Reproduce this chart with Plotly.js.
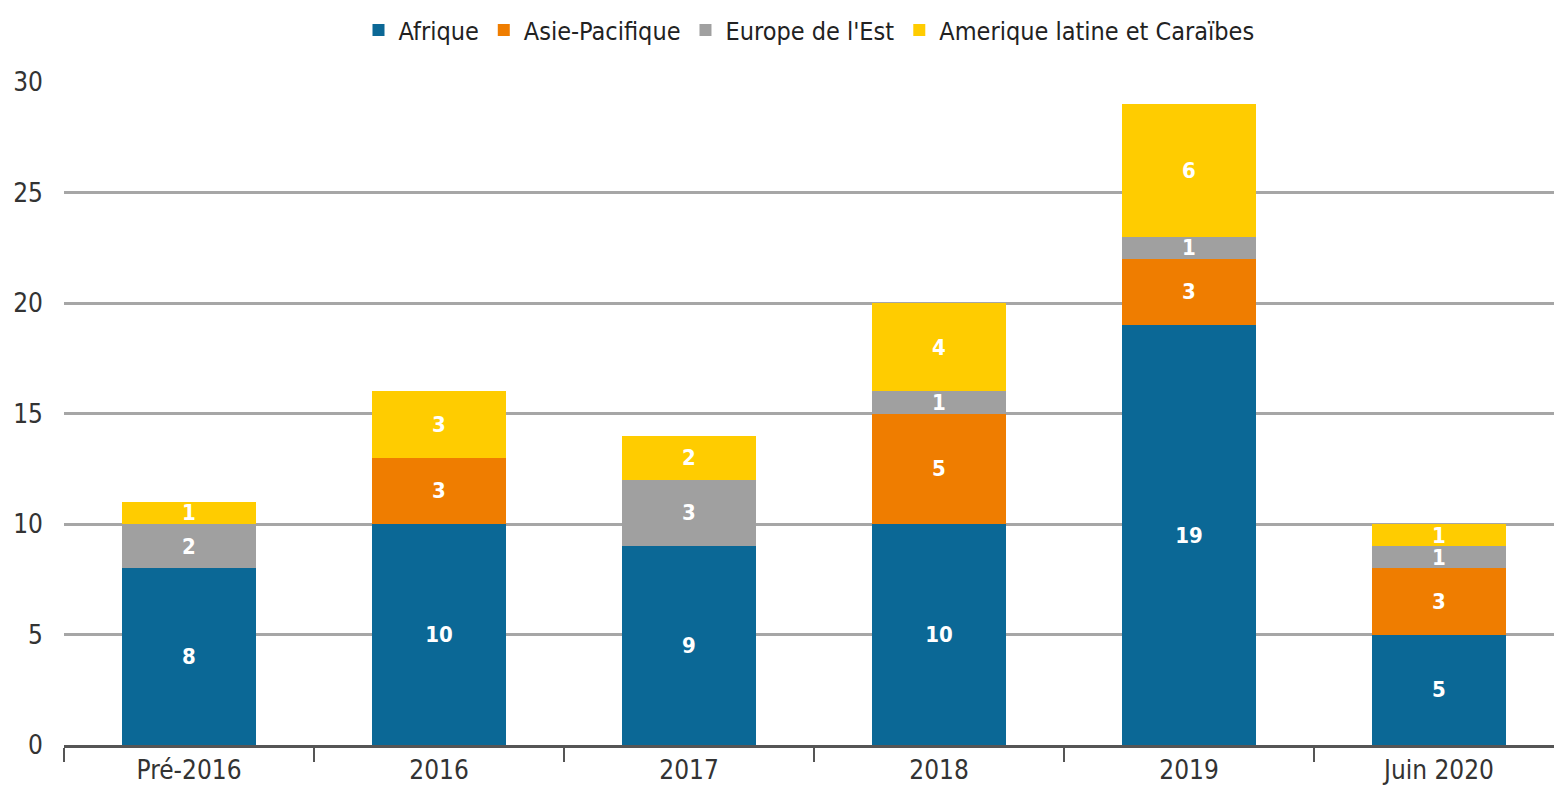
<!DOCTYPE html>
<html>
<head>
<meta charset="utf-8">
<script src="https://cdn.plot.ly/plotly-3.0.1.min.js"></script>
<style>html,body{margin:0;padding:0;background:#fff;}#chart{width:1554px;height:786px;}</style>
</head>
<body>
<div id="chart"></div>
<script>
var categories = ["Pré-2016", "2016", "2017", "2018", "2019", "Juin 2020"];
var afrique = [8, 10, 9, 10, 19, 5];
var asiePacifique = [0, 3, 0, 5, 3, 3];
var europeEst = [2, 0, 3, 1, 1, 1];
var ameriqueLatine = [1, 3, 2, 4, 6, 1];
var seriesNames = ["Afrique", "Asie-Pacifique", "Europe de l'Est", "Amerique latine et Caraïbes"];
var seriesColors = ["#0b6896", "#ef7d00", "#a0a0a0", "#ffcc00"];
var yTicks = [0, 5, 10, 15, 20, 25, 30];

var FONT = "'DejaVu Sans Condensed', 'Liberation Sans Narrow', sans-serif";
var all = [afrique, asiePacifique, europeEst, ameriqueLatine];
var traces = all.map(function (vals, i) {
  return {
    type: "bar",
    name: seriesNames[i],
    x: categories,
    y: vals.map(function (v) { return v === 0 ? null : v; }),
    text: vals.map(function (v) { return v === 0 ? "" : String(v); }),
    textposition: "inside",
    insidetextanchor: "middle",
    constraintext: "none",
    textangle: 0,
    textfont: { family: FONT, size: 22, color: "#ffffff", weight: "bold" },
    marker: { color: seriesColors[i], line: { width: 0 } },
    width: 0.536,
    hoverinfo: "x+y+name"
  };
});

var layout = {
  barmode: "stack",
  width: 1554,
  height: 786,
  margin: { l: 64, r: 0, t: 82, b: 41 },
  paper_bgcolor: "#ffffff",
  plot_bgcolor: "rgba(0,0,0,0)",
  font: { family: FONT, size: 26, color: "#333333" },
  showlegend: true,
  legend: {
    orientation: "h",
    x: 0.5, xanchor: "center", xref: "paper",
    y: 1.078, yanchor: "middle", yref: "paper",
    traceorder: "normal",
    font: { family: FONT, size: 25, color: "#222222" },
    itemwidth: 30,
    tracegroupgap: 0,
    bgcolor: "rgba(0,0,0,0)"
  },
  xaxis: {
    type: "category",
    range: [-0.5, 5.46],
    tickson: "boundaries",
    ticks: "outside",
    ticklen: 14,
    tickwidth: 2,
    tickcolor: "#555555",
    showline: true,
    linecolor: "#555555",
    linewidth: 3,
    showgrid: false,
    ticklabelstandoff: 0,
    tickfont: { family: FONT, size: 26, color: "#333333" },
    fixedrange: true
  },
  yaxis: {
    range: [0, 30],
    tickvals: yTicks,
    ticktext: yTicks.map(String),
    showgrid: true,
    gridcolor: "#a6a6a6",
    gridwidth: 3,
    zeroline: false,
    showline: false,
    ticks: "",
    ticklabelstandoff: 20,
    tickfont: { family: FONT, size: 26, color: "#333333" },
    fixedrange: true
  }
};

Plotly.newPlot("chart", traces, layout, { displayModeBar: false, staticPlot: true });
</script>
</body>
</html>
